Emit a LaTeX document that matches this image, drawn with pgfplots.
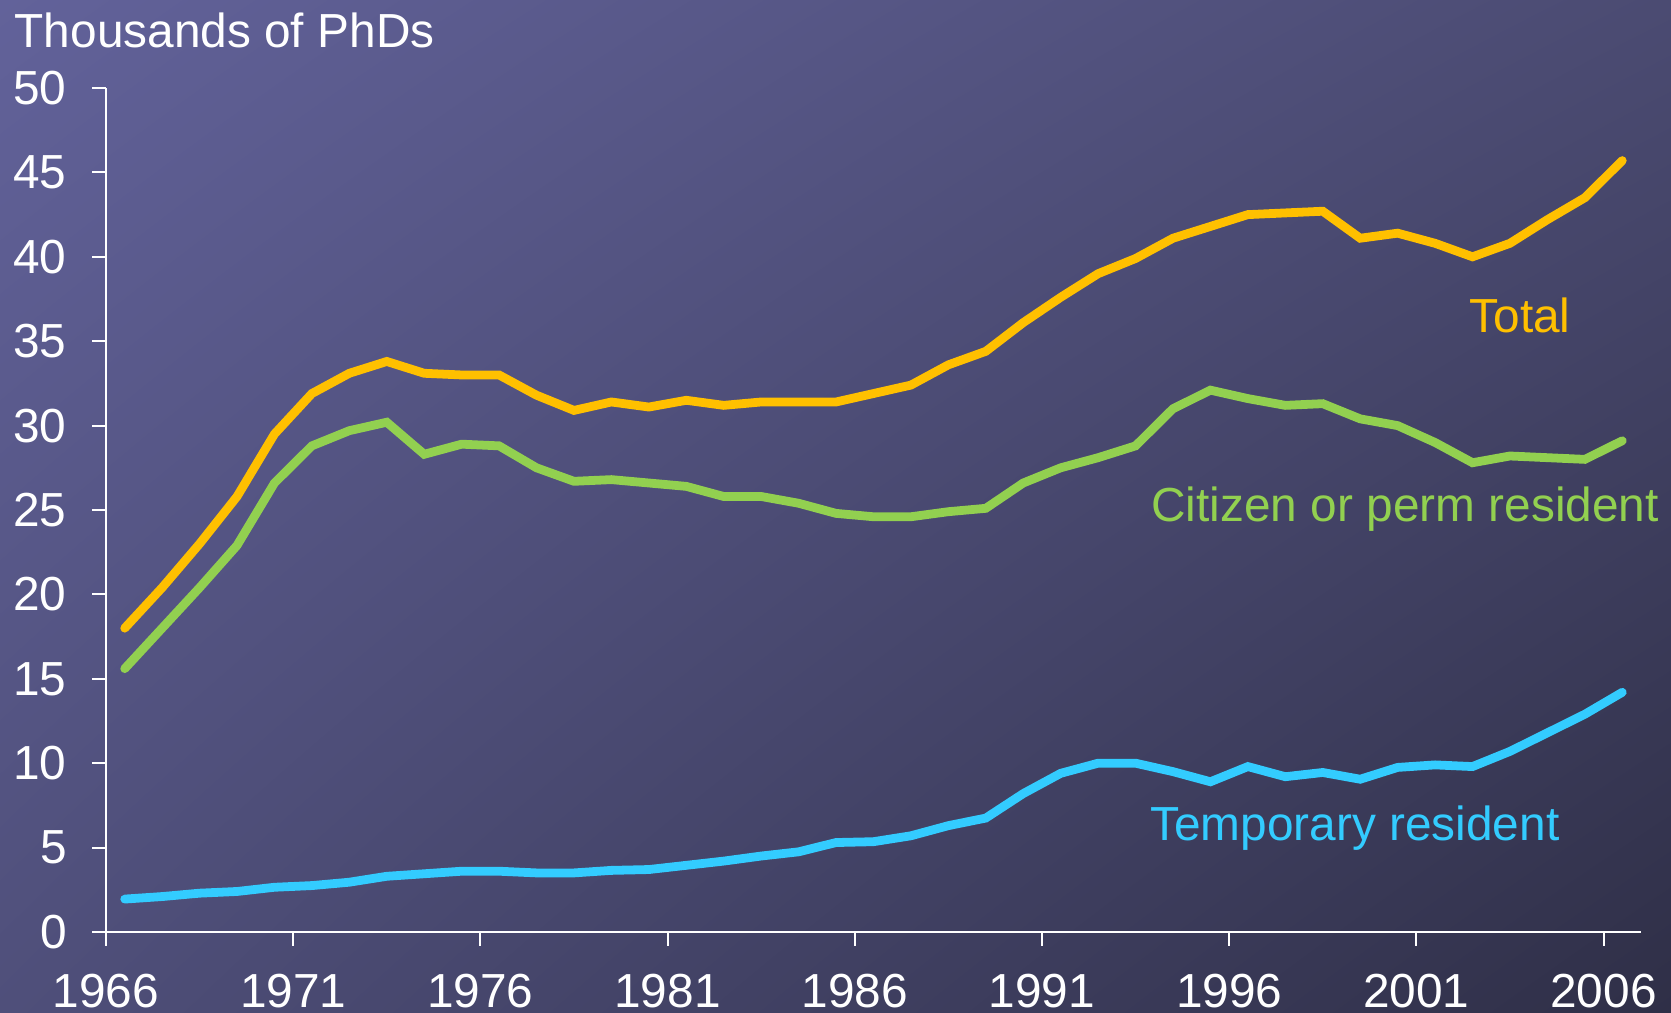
\documentclass[border=0pt]{standalone}
\usepackage{fontspec}
\setmainfont{Liberation Sans}
\usepackage{pgfplots}
\pgfplotsset{compat=1.18}
\usetikzlibrary{shadings}

\definecolor{bgUL}{HTML}{62629A}
\definecolor{bgUR}{HTML}{4B4B72}
\definecolor{bgLL}{HTML}{4F4F7A}
\definecolor{bgLR}{HTML}{2F2F47}
\definecolor{totalc}{HTML}{FFC000}
\definecolor{citc}{HTML}{92D050}
\definecolor{tempc}{HTML}{33CCFF}

\newcommand\lbl{\fontsize{13.6pt}{16pt}\selectfont}

\begin{document}
\begin{tikzpicture}
% slide background
\shade[upper left=bgUL, upper right=bgUR, lower left=bgLL, lower right=bgLR]
  (-1.06cm,-0.81cm) rectangle (15.65cm,9.32cm);

\begin{axis}[
    at={(0,0)}, anchor=south west,
    scale only axis,
    width=15.35cm, height=8.44cm,
    xmin=1966, xmax=2007,
    ymin=0, ymax=50,
    axis lines*=left,
    axis line style={white, line width=0.8pt},
    tick align=outside,
    major tick length=1.4mm,
    tick style={white, line width=0.6pt},
    xtick={1966,1971,...,2006},
    ytick={0,5,...,50},
    /pgf/number format/1000 sep={},
    /pgf/number format/assume math mode=true,
    tick label style={font=\lbl, text=white},
    yticklabel style={xshift=-1.3mm},
    xticklabel style={yshift=-1.6mm},
    clip=false,
    every axis plot/.append style={line width=2.5pt, line join=miter, line cap=round},
]
% Total
\addplot[color=totalc] coordinates {
(1966.5,18.0) (1967.5,20.4) (1968.5,23.0) (1969.5,25.8) (1970.5,29.5)
(1971.5,31.9) (1972.5,33.1) (1973.5,33.8) (1974.5,33.1) (1975.5,33.0)
(1976.5,33.0) (1977.5,31.8) (1978.5,30.9) (1979.5,31.4) (1980.5,31.1)
(1981.5,31.5) (1982.5,31.2) (1983.5,31.4) (1984.5,31.4) (1985.5,31.4)
(1986.5,31.9) (1987.5,32.4) (1988.5,33.6) (1989.5,34.4) (1990.5,36.1)
(1991.5,37.6) (1992.5,39.0) (1993.5,39.9) (1994.5,41.1) (1995.5,41.8)
(1996.5,42.5) (1997.5,42.6) (1998.5,42.7) (1999.5,41.1) (2000.5,41.4)
(2001.5,40.8) (2002.5,40.0) (2003.5,40.8) (2004.5,42.2) (2005.5,43.5)
(2006.5,45.7)};
% Citizen or permanent resident
\addplot[color=citc] coordinates {
(1966.5,15.6) (1967.5,18.0) (1968.5,20.4) (1969.5,22.9) (1970.5,26.6)
(1971.5,28.8) (1972.5,29.7) (1973.5,30.2) (1974.5,28.3) (1975.5,28.9)
(1976.5,28.8) (1977.5,27.5) (1978.5,26.7) (1979.5,26.8) (1980.5,26.6)
(1981.5,26.4) (1982.5,25.8) (1983.5,25.8) (1984.5,25.4) (1985.5,24.8)
(1986.5,24.6) (1987.5,24.6) (1988.5,24.9) (1989.5,25.1) (1990.5,26.6)
(1991.5,27.5) (1992.5,28.1) (1993.5,28.8) (1994.5,31.0) (1995.5,32.1)
(1996.5,31.6) (1997.5,31.2) (1998.5,31.3) (1999.5,30.4) (2000.5,30.0)
(2001.5,29.0) (2002.5,27.8) (2003.5,28.2) (2004.5,28.1) (2005.5,28.0)
(2006.5,29.1)};
% Temporary resident
\addplot[color=tempc] coordinates {
(1966.5,1.95) (1967.5,2.1) (1968.5,2.3) (1969.5,2.4) (1970.5,2.65)
(1971.5,2.75) (1972.5,2.95) (1973.5,3.3) (1974.5,3.45) (1975.5,3.6)
(1976.5,3.6) (1977.5,3.5) (1978.5,3.5) (1979.5,3.65) (1980.5,3.7)
(1981.5,3.95) (1982.5,4.2) (1983.5,4.5) (1984.5,4.75) (1985.5,5.3)
(1986.5,5.35) (1987.5,5.7) (1988.5,6.3) (1989.5,6.75) (1990.5,8.2)
(1991.5,9.4) (1992.5,10.0) (1993.5,10.0) (1994.5,9.5) (1995.5,8.9)
(1996.5,9.8) (1997.5,9.2) (1998.5,9.45) (1999.5,9.05) (2000.5,9.75)
(2001.5,9.9) (2002.5,9.8) (2003.5,10.7) (2004.5,11.8) (2005.5,12.9)
(2006.5,14.2)};

\node[font=\lbl, text=totalc] at (axis cs:2003.77,36.5) {Total};
\node[font=\lbl, text=citc] at (axis cs:2000.7,25.06) {Citizen or perm resident};
\node[font=\lbl, text=tempc] at (axis cs:1999.36,6.16) {Temporary resident};
\end{axis}

\node[font=\lbl, text=white, anchor=west, inner sep=0pt] at (-0.92cm,9.02cm) {Thousands of PhDs};

% page is exactly the slide area
\pgfresetboundingbox
\path (-1.06cm,-0.81cm) rectangle (15.65cm,9.32cm);
\end{tikzpicture}
\end{document}
